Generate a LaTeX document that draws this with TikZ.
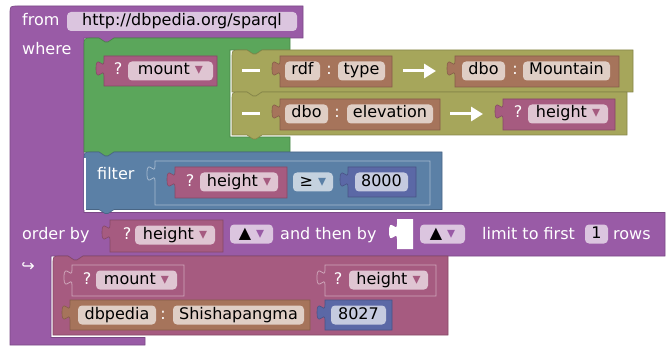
\documentclass[tikz,border=0pt]{standalone}
\usepackage{fontspec}
\setmainfont{DejaVu Sans}
\usepackage{xcolor}
\usepackage{tikz}
\usetikzlibrary{arrows.meta}
\definecolor{BlockPurple}{RGB}{153,91,166}
\definecolor{BlockGreen}{RGB}{91,166,91}
\definecolor{BlockOlive}{RGB}{166,166,91}
\definecolor{BlockBrown}{RGB}{166,116,91}
\definecolor{BlockPink}{RGB}{166,91,128}
\definecolor{BlockBlue}{RGB}{91,128,166}
\definecolor{BlockIndigo}{RGB}{91,104,166}
\newcommand{\valblock}[5]{%
	\path[#5] (#1,#2) -- (#3,#2) -- (#3,#4) -- (#1,#4) -- (#1,#2+20)
		.. controls (#1,#2+10) and (#1-8,#2+28) .. (#1-8,#2+12.5)
		.. controls (#1-8,#2-3) and (#1,#2+15) .. (#1,#2+5) -- cycle;}
\newcommand{\stmtblock}[5]{%
	\path[#5] (#1,#2+8) .. controls (#1,#2) .. (#1+8,#2) -- (#1+15,#2) -- (#1+21,#2+4) -- (#1+24,#2+4) -- (#1+30,#2)
		-- (#3,#2) -- (#3,#4) -- (#1+30,#4) -- (#1+24,#4+4) -- (#1+21,#4+4) -- (#1+15,#4) -- (#1,#4) -- cycle;}
\newcommand{\dd}[1]{~\textcolor{#1}{▾}}

\begin{document}
\begin{tikzpicture}[x=1pt, y=-1pt, font=\fontsize{16}{19}\selectfont,
	blk/.style={fill=#1, draw=#1!80!black, line width=0.6pt},
	lite/.style={fill=#1, draw=#1!55!white, line width=0.8pt},
	pill/.style={fill=white, fill opacity=0.65, text opacity=1, text=black, rounded corners=4pt,
		inner sep=0pt, minimum height=19pt, text height=11.5pt, text depth=3.5pt},
	lbl/.style={text=white, inner sep=0pt, text height=11.5pt, text depth=3.5pt},
	bar/.style={white, line width=3pt},
	pointer/.style={white, line width=3pt, -{Triangle[length=12pt, width=14pt]}}]
		\useasboundingbox (0,0) rectangle (668,347);
		\path[blk=BlockPurple] (10,14) .. controls (10,6) .. (18,6) -- (303,6) -- (303,38) -- (114,38) -- (108,42) -- (105,42) -- (99,38)
			-- (84,38) -- (84,212.5) -- (665,212.5) -- (665,256) -- (83,256) -- (77,260) -- (74,260) -- (68,256)
			-- (51,256) -- (51,337.5) -- (145,337.5) -- (145,345) -- (10,345) -- cycle;
		\path[blk=BlockGreen] (84,46) .. controls (84,38) .. (92,38) -- (99,38) -- (105,42) -- (108,42) -- (114,38) -- (290,38)
			-- (290,50) -- (262,50) -- (256,54) -- (253,54) -- (247,50) -- (230,50) -- (230,137) -- (290,137)
			-- (290,152) -- (114,152) -- (108,156) -- (105,156) -- (99,152) -- (84,152) -- cycle;
		\stmtblock{232}{50}{633}{92}{blk=BlockOlive}
		\stmtblock{232}{92}{627}{135}{blk=BlockOlive}
		\stmtblock{84}{152}{442}{209.5}{blk=BlockBlue}
		\draw[white, line width=1.5pt] (84.75,158) -- (84.75,209.5);
		\path[blk=BlockPink] (53,264) .. controls (53,256) .. (61,256) -- (68,256) -- (74,260) -- (77,260) -- (83,256)
			-- (448,256) -- (448,335) -- (53,335) -- cycle;
		\valblock{104}{56}{217}{86}{blk=BlockPink}
		\valblock{280}{56}{392}{87}{blk=BlockBrown}
		\valblock{455}{56}{619}{87}{blk=BlockBrown}
		\valblock{280}{99}{440}{130}{blk=BlockBrown}
		\valblock{503}{99}{615}{130}{blk=BlockPink}
		\valblock{155}{161}{430}{205}{lite=BlockBlue}
		\valblock{175}{167}{287}{198}{blk=BlockPink}
		\valblock{348}{167}{416}{197}{blk=BlockIndigo}
		\valblock{110}{220}{223}{252}{blk=BlockPink}
		\valblock{397}{219}{413}{249}{fill=white}
		\valblock{72}{265}{184}{296}{lite=BlockPink}
		\valblock{325}{265}{436}{296}{lite=BlockPink}
		\valblock{70}{300}{310}{330}{blk=BlockBrown}
		\valblock{325}{300}{392}{330}{blk=BlockIndigo}
		\node[lbl, anchor=west] (from) at (22,21.5) {from};
		\node[lbl, anchor=west] (where) at (22,51) {where};
		\node[lbl, anchor=west] (filter) at (97,176) {filter};
		\node[lbl, anchor=west] (orderby) at (22,235) {order by};
		\node[lbl, anchor=west] (thenby) at (280,235) {and then by};
		\node[lbl, anchor=west] (limit) at (482,235) {limit to first};
		\node[lbl, anchor=west] (rows) at (613,235) {rows};
		\node[lbl] (ret) at (28,267) {↪};
		\node[lbl] (qmount) at (118,71) {?};
		\node[lbl] (qheight) at (518,114) {?};
		\node[lbl] (qfilter) at (190,182) {?};
		\node[lbl] (qorder) at (127,235) {?};
		\node[lbl] (qresmount) at (87,280) {?};
		\node[lbl] (qresheight) at (338,280) {?};
		\node[lbl] (colon1) at (329,71) {:};
		\node[lbl] (colon2) at (515,71) {:};
		\node[lbl] (colon3) at (337,114) {:};
		\node[lbl] (colon4) at (163,315) {:};
		\node[pill, minimum width=230pt] (url) at (182,21.5) {http://dbpedia.org/sparql};
		\node[pill, minimum width=85pt] (mount) at (170.5,71) {mount\dd{BlockPink}};
		\node[pill, minimum width=35pt] (rdf) at (302.5,71) {rdf};
		\node[pill, minimum width=47pt] (type) at (361.5,71) {type};
		\node[pill, minimum width=43pt] (dboa) at (483.5,71) {dbo};
		\node[pill, minimum width=87pt] (mountain) at (566.5,71) {Mountain};
		\node[pill, minimum width=43pt] (dbob) at (306.5,114) {dbo};
		\node[pill, minimum width=86pt] (elevation) at (390,114) {elevation};
		\node[pill, minimum width=80pt] (height) at (568,114) {height\dd{BlockPink}};
		\node[pill, minimum width=78pt] (fheight) at (239,182) {height\dd{BlockPink}};
		\node[pill, minimum width=40pt] (geq) at (313,182) {≥\dd{BlockBlue}};
		\node[pill, minimum width=53pt] (limval) at (381.5,182) {8000};
		\node[pill, minimum width=80pt] (oheight) at (175,235) {height\dd{BlockPink}};
		\node[pill, minimum width=43pt] (asca) at (251.5,234) {▲\dd{BlockPurple}};
		\node[pill, minimum width=45pt] (ascb) at (442.5,234) {▲\dd{BlockPurple}};
		\node[pill, minimum width=23pt] (count) at (596.5,234) {1};
		\node[pill, minimum width=81pt] (rmount) at (136.5,280) {mount\dd{BlockPink}};
		\node[pill, minimum width=79pt] (rheight) at (388.5,280) {height\dd{BlockPink}};
		\node[pill, minimum width=78pt] (dbpedia) at (117,315) {dbpedia};
		\node[pill, minimum width=131pt] (peak) at (238.5,315) {Shishapangma};
		\node[pill, minimum width=55pt] (peakval) at (358.5,315) {8027};
		\coordinate (bar1a) at (242,71);
		\coordinate (bar1b) at (260,71);
		\coordinate (bar2a) at (242,114);
		\coordinate (bar2b) at (260,114);
		\coordinate (arr1a) at (403,71);
		\coordinate (arr1b) at (436,71);
		\coordinate (arr2a) at (450,114);
		\coordinate (arr2b) at (483,114);
		\draw[bar] (bar1a) -- (bar1b);
		\draw[bar] (bar2a) -- (bar2b);
		\draw[pointer] (arr1a) -- (arr1b);
		\draw[pointer] (arr2a) -- (arr2b);
	\end{tikzpicture}
\end{document}
